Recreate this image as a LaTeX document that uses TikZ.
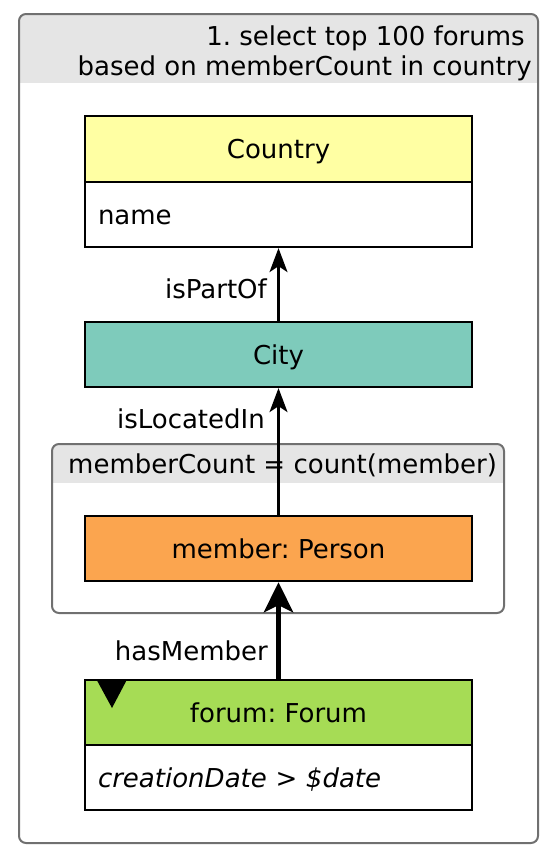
\documentclass[tikz,border=0pt]{standalone}
\usepackage{fontspec}
\setmainfont{DejaVu Sans}
\usetikzlibrary{arrows.meta}
\frenchspacing
\definecolor{framegray}{HTML}{707070}
\definecolor{headgray}{HTML}{E5E5E5}
\definecolor{countryc}{HTML}{FFFFA3}
\definecolor{cityc}{HTML}{7ECBBB}
\definecolor{personc}{HTML}{FBA54F}
\definecolor{forumc}{HTML}{A6DC55}
\begin{document}
\begin{tikzpicture}[x=1pt,y=-1pt,
  txt/.style={font=\fontsize{26}{30}\selectfont},
  box/.style={txt, draw=black, line width=1.8pt, minimum width=387pt, minimum height=65.5pt,
    inner sep=0pt, text height=19pt, text depth=0pt},
  bodybox/.style={box, fill=white, text width=361pt, align=left, inner xsep=13pt},
  lbl/.style={txt, anchor=east, inner sep=0pt, text height=19pt, text depth=0pt},
  thinarrow/.style={line width=2.2pt, -{Stealth[length=24pt,width=18pt,inset=6pt]}},
  thickarrow/.style={line width=5.5pt, -{Stealth[length=30pt,width=29pt,inset=7pt]}}]
\useasboundingbox (0,0) rectangle (550,862);
% outer frame
\begin{scope}
  \clip[rounded corners=7pt] (19,14) rectangle (538,843);
  \fill[headgray] (19,14) rectangle (538,83);
\end{scope}
\draw[framegray, line width=2pt, rounded corners=7pt] (19,14) rectangle (538,843);
\node[txt, anchor=base east, inner sep=0pt] (title1) at (525,45) {1.\ select top 100 forums};
\node[txt, anchor=base east, inner sep=0pt] (title2) at (532,75) {based on memberCount in country};
% group frame
\begin{scope}
  \clip[rounded corners=7pt] (52,444) rectangle (504,613);
  \fill[headgray] (52,444) rectangle (504,483);
\end{scope}
\draw[framegray, line width=2pt, rounded corners=7pt] (52,444) rectangle (504,613);
\node[txt, anchor=base west, inner sep=0pt] (grouptitle) at (68,473) {memberCount = count(member)};
% nodes
\node[box, fill=countryc] (country) at (278.5,149) {Country};
\node[bodybox] (countrybody) at (278.5,214.5) {name};
\node[box, fill=cityc] (city) at (278.5,354.5) {City};
\node[box, fill=personc] (person) at (278.5,548.5) {member: Person};
\node[box, fill=forumc] (forum) at (278.5,712.5) {forum: Forum};
\node[bodybox] (forumbody) at (278.5,777.5) {\itshape creationDate > \$date};
\fill[black] (96.5,679.5) -- (127,679.5) -- (112,708) -- cycle;
% edges
\draw[thinarrow] (city.north) -- (countrybody.south);
\draw[thinarrow] (person.north) -- (city.south);
\draw[thickarrow] (forum.north) -- (person.south);
\node[lbl] (lpart) at (267,289) {isPartOf};
\node[lbl] (lloc) at (265,419) {isLocatedIn};
\node[lbl] (lmem) at (268,651) {hasMember};
\end{tikzpicture}
\end{document}
